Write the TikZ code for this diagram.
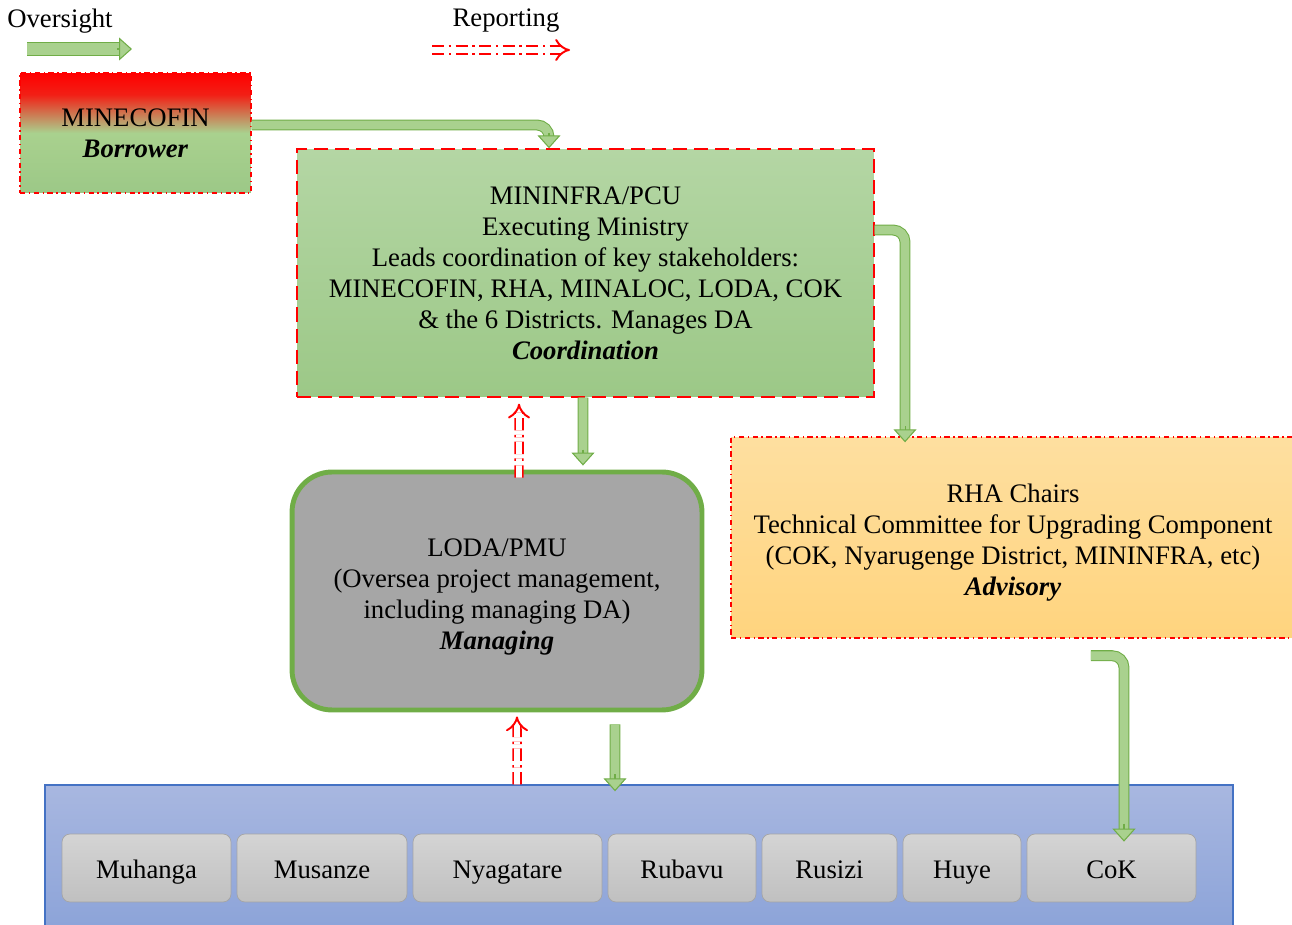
\documentclass[tikz,border=0pt]{standalone}
\usepackage{fontspec}
\setmainfont{Liberation Serif}
\usetikzlibrary{arrows.meta}
\definecolor{ogreen}{HTML}{70AD47}
\definecolor{lgreen}{HTML}{A9D18E}
\definecolor{tgreen}{HTML}{B4D6A4}
\definecolor{bgreen}{HTML}{9CC887}
\definecolor{lorange}{HTML}{FEDFA0}
\definecolor{dorange}{HTML}{FFD47E}
\definecolor{lblue}{HTML}{A8B7E0}
\definecolor{dblue}{HTML}{8AA2D8}
\definecolor{eblue}{HTML}{4472C4}
\definecolor{lgray}{HTML}{D4D4D4}
\definecolor{dgray}{HTML}{C0C0C0}
\definecolor{egray}{HTML}{A5A5A5}
\definecolor{mgray}{HTML}{A6A6A6}
\pgfdeclareverticalshading{borrowershade}{100bp}{color(0bp)=(bgreen); color(25bp)=(bgreen); color(50bp)=(lgreen); color(66bp)=(red!85!lgreen); color(75bp)=(red); color(100bp)=(red)}
\tikzstyle{txt}=[font=\fontsize{15.2}{17.6}\selectfont, align=center, inner sep=0pt]
\tikzstyle{board}=[txt, draw=red, line width=0.8pt]
\tikzstyle{shaft}=[draw=ogreen, line width=0.6pt, double=lgreen, double distance=5pt, shorten >=0.22cm, rounded corners=0.24cm]
\tikzstyle{blockhead}=[draw=ogreen, line width=0.6pt, -{Triangle[width=0.46cm, length=0.26cm, fill=lgreen]}]
\tikzstyle{report}=[draw=red, line width=1.1pt, double=white, double distance=3.2pt, dash pattern=on 7pt off 2.5pt on 1.4pt off 2.5pt, -{Implies}]
\tikzstyle{district}=[txt, draw=egray, rounded corners=0.16cm, top color=lgray, bottom color=dgray, minimum height=1.36cm, text height=13pt, text depth=1.4pt]

\begin{document}
\begin{tikzpicture}[x=0.02cm, y=-0.02cm]
		   \useasboundingbox (0,0) rectangle (1292,925);
		   \begin{scope}
			   % legend
			   \node[txt] (oversight) at (60,21) {Oversight};
			   \node[txt] (reporting) at (506,21) {Reporting};
			   \coordinate (o1) at (27,49);
			   \coordinate (o2) at (132,49);
			   \coordinate (r1) at (432,50);
			   \coordinate (r2) at (570,50);
		   \end{scope}
		   \begin{scope}
			   \node (MINECOFIN) at (135.5,133)[board, dash dot, minimum width=4.62cm, minimum height=2.4cm, shading=borrowershade] {
				   MINECOFIN\\\textbf{\textit{Borrower}}
			   };
			   \node (MININFRA) at (585.5,273)[board, dash pattern=on 8pt off 4pt, minimum width=11.54cm, minimum height=4.96cm, top color=tgreen, bottom color=bgreen] {
				   MININFRA/PCU\\Executing Ministry\\Leads coordination of key stakeholders:\\MINECOFIN, RHA, MINALOC, LODA, COK\\\& the 6 Districts. Manages DA\\\textbf{\textit{Coordination}}
			   };
			   \node (LODA) at (497,591)[txt, draw=ogreen, line width=2.8pt, rounded corners=0.8cm, fill=mgray, minimum width=8.2cm, minimum height=4.76cm, text height=70pt] {
				   LODA/PMU\\(Oversea project management,\\including managing DA)\\\textbf{\textit{Managing}}
			   };
			   \node (RHA) at (1013,537.5)[board, dash dot, minimum width=11.28cm, minimum height=4.02cm, top color=lorange, bottom color=dorange, text height=68.8pt] {
				   RHA Chairs\\Technical Committee for Upgrading Component\\(COK, Nyarugenge District, MININFRA, etc)\\\textbf{\textit{Advisory}}
			   };
			   \node (Districts) at (639,862.5)[draw=eblue, line width=0.8pt, top color=lblue, bottom color=dblue, minimum width=23.76cm, minimum height=3.1cm] {};
			   \foreach \n/\cx/\w in {Muhanga/146.5/3.38, Musanze/322/3.4, Nyagatare/507.5/3.78, Rubavu/682/2.96, Rusizi/829.5/2.7, Huye/962/2.36, CoK/1111.5/3.38}
				   \node (\n) at (\cx,868)[district, minimum width=\w cm] {\n};
		   \end{scope}
		   \begin{scope}
			   % oversight
			   \draw[shaft, double distance=6.6pt, shorten >=0.26cm] (o1) -- (o2);
			   \draw[blockhead] ([xshift=-0.3cm]o2) -- (o2);
			   \draw[shaft] ([yshift=0.16cm]MINECOFIN.east) -| ([xshift=-0.73cm]MININFRA.north);
			   \draw[blockhead] ([xshift=-0.73cm, yshift=0.3cm]MININFRA.north) -- ([xshift=-0.73cm]MININFRA.north);
			   \draw[shaft] ([yshift=0.86cm]MININFRA.east) -| ([xshift=-2.16cm, yshift=-0.12cm]RHA.north);
			   \draw[blockhead] ([xshift=-2.16cm, yshift=0.2cm]RHA.north) -- ([xshift=-2.16cm, yshift=-0.12cm]RHA.north);
			   \draw[shaft] ([xshift=-0.05cm]MININFRA.south) -- ([xshift=1.72cm, yshift=0.08cm]LODA.north);
			   \draw[blockhead] ([xshift=1.72cm, yshift=0.4cm]LODA.north) -- ([xshift=1.72cm, yshift=0.08cm]LODA.north);
			   \draw[shaft] ([xshift=2.36cm, yshift=-0.24cm]LODA.south) -- ([xshift=-0.48cm, yshift=-0.14cm]Districts.north);
			   \draw[blockhead] ([xshift=-0.48cm, yshift=0.2cm]Districts.north) -- ([xshift=-0.48cm, yshift=-0.14cm]Districts.north);
			   \draw[shaft] ([xshift=1.56cm, yshift=-0.34cm]RHA.south) -| ([xshift=0.25cm, yshift=-0.16cm]CoK.north);
			   \draw[blockhead] ([xshift=0.25cm, yshift=0.2cm]CoK.north) -- ([xshift=0.25cm, yshift=-0.16cm]CoK.north);
			   % reporting
			   \draw[report] (r1) -- (r2);
			   \draw[report] ([xshift=0.44cm, yshift=-0.16cm]LODA.north) -- ([xshift=-1.33cm, yshift=-0.12cm]MININFRA.south);
			   \draw[report] ([xshift=-2.44cm]Districts.north) -- ([xshift=0.4cm, yshift=-0.08cm]LODA.south);
		   \end{scope}
	   \end{tikzpicture}
\end{document}
